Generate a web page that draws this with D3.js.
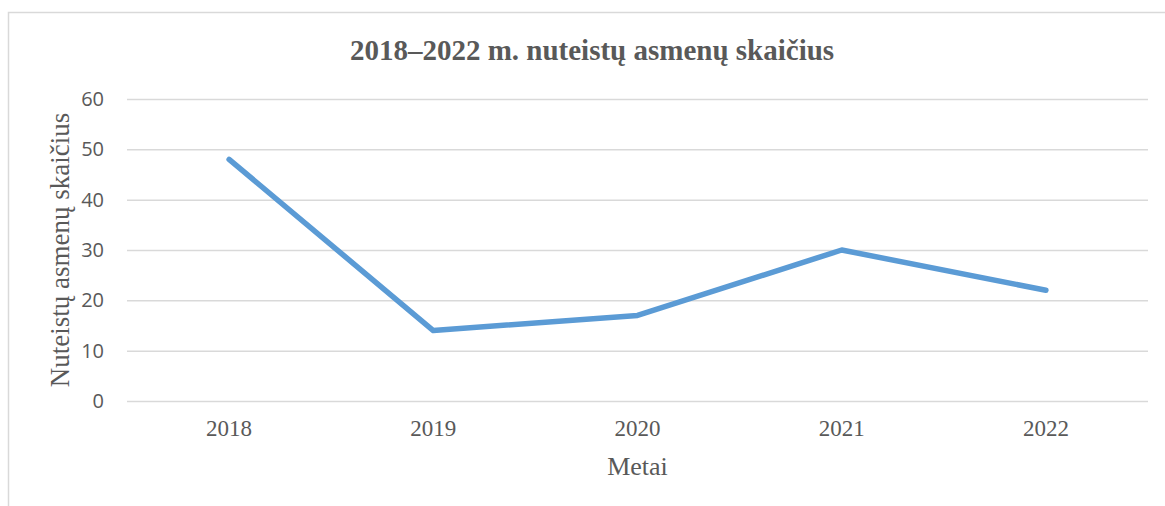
<!DOCTYPE html>
<html>
<head>
<meta charset="utf-8">
<script src="https://cdn.jsdelivr.net/npm/d3@7"></script>
<style>
  body { margin: 0; background: #fff; }
  svg { display: block; }
</style>
</head>
<body>
<script>
var years = ["2018", "2019", "2020", "2021", "2022"];
var convicted = [48, 14, 17, 30, 22];
var yTicks = [0, 10, 20, 30, 40, 50, 60];

var width = 1165, height = 506;
var margin = {top: 99, right: 17, bottom: 105, left: 127};
var plotW = width - margin.left - margin.right,
    plotH = height - margin.top - margin.bottom;

var serif = "'Liberation Serif', 'Times New Roman', serif";

var svg = d3.select("body").append("svg")
    .attr("width", width)
    .attr("height", height);

// chart frame (right and bottom edges fall outside the picture)
svg.append("rect")
    .attr("x", 8.5).attr("y", 12.5)
    .attr("width", 1300).attr("height", 600)
    .attr("fill", "none")
    .attr("stroke", "#d9d9d9")
    .attr("stroke-width", 1.5);

var x = d3.scaleBand().domain(years).range([0, plotW]);
var y = d3.scaleLinear().domain([0, 60]).range([plotH, 0]);

var g = svg.append("g")
    .attr("transform", "translate(" + margin.left + "," + margin.top + ")");

// gridlines
g.append("g")
    .call(d3.axisLeft(y).tickValues(yTicks).tickSize(-plotW).tickFormat(""))
    .call(function(s) { s.select(".domain").remove(); })
    .selectAll("line")
      .attr("stroke", "#d9d9d9")
      .attr("stroke-width", 1.5);

// y tick labels
g.append("g")
    .call(d3.axisLeft(y).tickValues(yTicks).tickSize(0).tickPadding(23))
    .call(function(s) { s.select(".domain").remove(); })
    .selectAll("text")
      .attr("fill", "#595959")
      .style("font-family", "'Open Sans', sans-serif")
      .style("font-size", "20px");

// x tick labels
g.append("g")
    .attr("transform", "translate(0," + plotH + ")")
    .call(d3.axisBottom(x).tickSize(0).tickPadding(19))
    .call(function(s) { s.select(".domain").remove(); })
    .selectAll("text")
      .attr("fill", "#595959")
      .style("font-family", serif)
      .style("font-size", "23px");

var line = d3.line()
    .x(function(d, i) { return x(years[i]) + x.bandwidth() / 2; })
    .y(function(d) { return y(d); });

g.append("path")
    .datum(convicted)
    .attr("d", line)
    .attr("fill", "none")
    .attr("stroke", "#5b9bd5")
    .attr("stroke-width", 5.5)
    .attr("stroke-linecap", "round")
    .attr("stroke-linejoin", "round");

// title
svg.append("text")
    .attr("x", 592).attr("y", 60)
    .attr("text-anchor", "middle")
    .attr("fill", "#595959")
    .style("font-family", serif)
    .style("font-weight", "bold")
    .style("font-size", "29px")
    .text("2018–2022 m. nuteistų asmenų skaičius");

// axis titles
svg.append("text")
    .attr("x", margin.left + plotW / 2).attr("y", 475)
    .attr("text-anchor", "middle")
    .attr("fill", "#595959")
    .style("font-family", serif)
    .style("font-size", "26px")
    .text("Metai");

svg.append("text")
    .attr("transform", "translate(69," + (margin.top + plotH / 2) + ") rotate(-90)")
    .attr("text-anchor", "middle")
    .attr("fill", "#595959")
    .style("font-family", serif)
    .style("font-size", "27px")
    .text("Nuteistų asmenų skaičius");
</script>
</body>
</html>
